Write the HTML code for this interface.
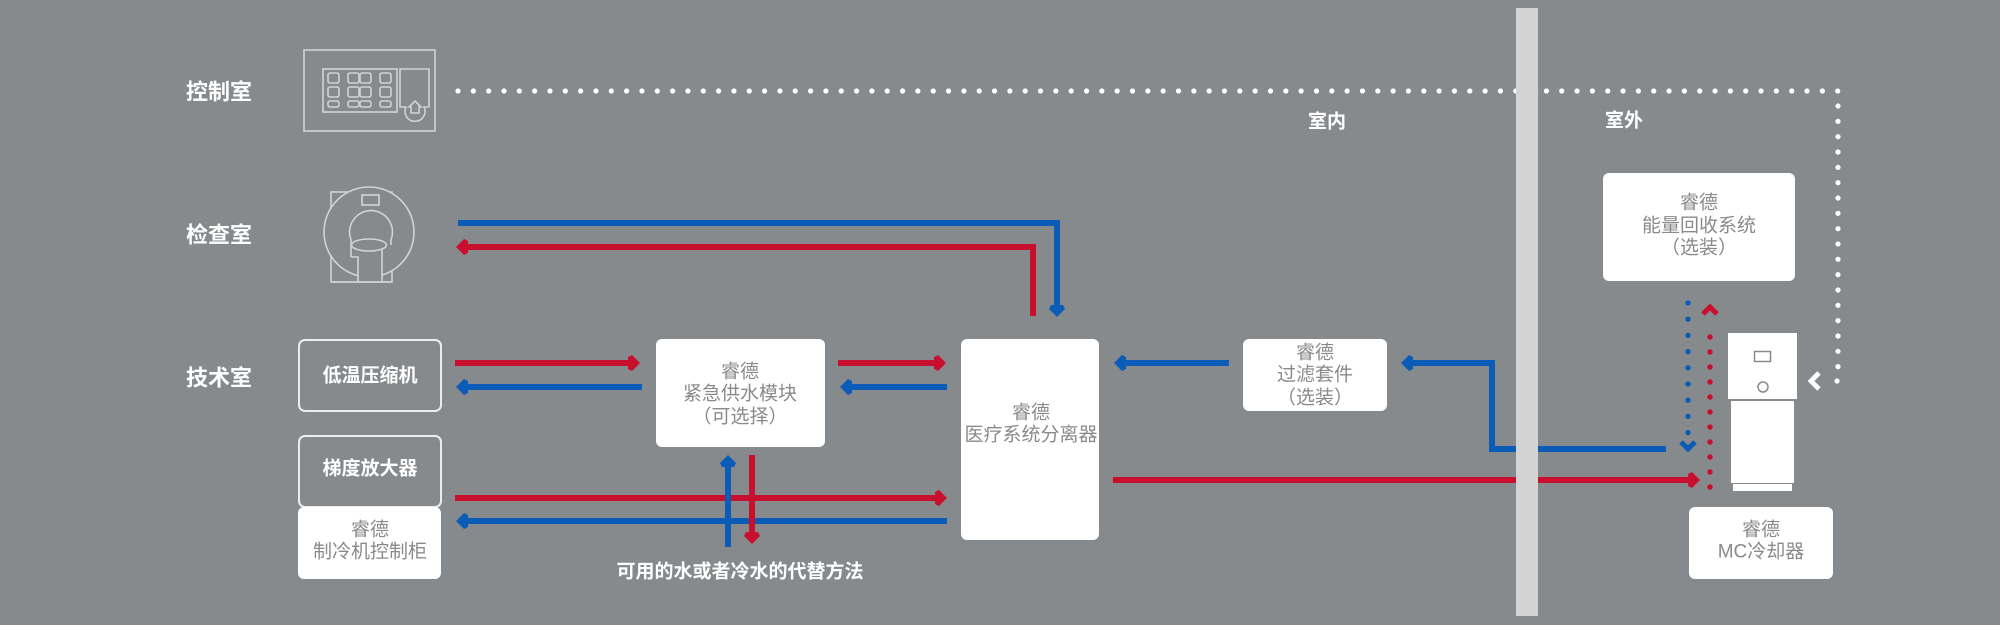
<!DOCTYPE html>
<html>
<head>
<meta charset="utf-8">
<style>
  html,body{margin:0;padding:0;background:#878a8d;}
  svg{display:block;}
  text{font-family:"Liberation Sans","Noto Sans CJK SC",sans-serif;}
  .room{fill:#ffffff;font-size:22px;font-weight:bold;}
  .lbl{fill:#ffffff;font-size:19px;font-weight:bold;}
  .bt{fill:#8a8a8a;font-size:19px;}
</style>
</head>
<body>
<svg width="2000" height="625" viewBox="0 0 2000 625" xmlns="http://www.w3.org/2000/svg">
  <rect x="0" y="0" width="2000" height="625" fill="#878a8d"/>

  <!-- Room labels -->
  <text class="room" x="186" y="92" dominant-baseline="central">控制室</text>
  <text class="room" x="186" y="235" dominant-baseline="central">检查室</text>
  <text class="room" x="186" y="378" dominant-baseline="central">技术室</text>
  <text class="lbl" x="1327" y="122" text-anchor="middle" dominant-baseline="central">室内</text>
  <text class="lbl" x="1624" y="121" text-anchor="middle" dominant-baseline="central">室外</text>

  <!-- Control room icon -->
  <g fill="none" stroke="#d2d2d2" stroke-width="1.6">
    <rect x="304" y="50" width="131" height="81"/>
    <rect x="323" y="69" width="74" height="43"/>
    <g>
      <rect x="328" y="73" width="11" height="10" rx="2"/>
      <rect x="348" y="73" width="11" height="10" rx="2"/>
      <rect x="360" y="73" width="11" height="10" rx="2"/>
      <rect x="380" y="73" width="11" height="10" rx="2"/>
      <rect x="328" y="87" width="11" height="10" rx="2"/>
      <rect x="348" y="87" width="11" height="10" rx="2"/>
      <rect x="360" y="87" width="11" height="10" rx="2"/>
      <rect x="380" y="87" width="11" height="10" rx="2"/>
      <rect x="328" y="101" width="11" height="6" rx="2"/>
      <rect x="348" y="101" width="11" height="6" rx="2"/>
      <rect x="360" y="101" width="11" height="6" rx="2"/>
      <rect x="380" y="101" width="11" height="6" rx="2"/>
    </g>
    <path d="M400,107 V69 H429 V107 H424 A10,10 0 1 1 406,107 Z"/>
    <path d="M415,101 L421,107 L419,107 L419,113 L411,113 L411,107 L409,107 Z"/>
  </g>

  <!-- MRI icon -->
  <g fill="none" stroke="#d2d2d2" stroke-width="1.6">
    <rect x="331" y="192" width="61" height="90"/>
    <circle cx="369" cy="232" r="45" fill="#878a8d"/>
    <rect x="362" y="195" width="17" height="10"/>
    <path d="M351,257 V240 A21.5,21.5 0 1 1 391,240 V245" fill="#878a8d"/>
    <path d="M351,257 H358 V282 H382 V249" fill="#878a8d"/>
    <ellipse cx="369" cy="245" rx="17.5" ry="6" fill="#878a8d"/>
    <line x1="331" y1="282" x2="392" y2="282"/>
  </g>

  <!-- White dotted control line -->
  <path d="M458,91 H1838 V381 H1825" fill="none" stroke="#ffffff" stroke-width="5.2" stroke-linecap="round" stroke-dasharray="0 15.33"/>
  <polyline points="1819,373 1811,381 1819,389" fill="none" stroke="#ffffff" stroke-width="4.8"/>

  <!-- Blue/red dotted lines near chiller -->
  <path d="M1688,303 V434" fill="none" stroke="#0a5cb7" stroke-width="5.4" stroke-linecap="round" stroke-dasharray="0 16.2"/>
  <polyline points="1681,442 1688,449 1695,442" fill="none" stroke="#0a5cb7" stroke-width="5"/>
  <path d="M1710,487 V322" fill="none" stroke="#c8102e" stroke-width="5.4" stroke-linecap="round" stroke-dasharray="0 15"/>
  <polyline points="1703,314 1710,307 1717,314" fill="none" stroke="#c8102e" stroke-width="5"/>

  <!-- Pipes -->
  <g fill="none" stroke-width="6" stroke-linejoin="miter">
    <path d="M458,223 H1057 V309" stroke="#0a5cb7"/>
    <path d="M1033,316 V247 H464" stroke="#c8102e"/>
    <path d="M455,363 H632" stroke="#c8102e"/>
    <path d="M642,387 H464" stroke="#0a5cb7"/>
    <path d="M838,363 H938" stroke="#c8102e"/>
    <path d="M947,387 H848" stroke="#0a5cb7"/>
    <path d="M455,498 H939" stroke="#c8102e"/>
    <path d="M947,521 H464" stroke="#0a5cb7"/>
    <path d="M752,455 V536" stroke="#c8102e"/>
    <path d="M728,547 V463" stroke="#0a5cb7"/>
    <path d="M1229,363 H1122" stroke="#0a5cb7"/>
    <path d="M1666,449 H1492 V363 H1409" stroke="#0a5cb7"/>
    <path d="M1113,480 H1692" stroke="#c8102e"/>
  </g>

  <!-- Arrowheads -->
  <g>
    <polygon points="456,247 464,239 468,241 468,253 464,255" fill="#c8102e"/>
    <polygon points="456,387 464,379 468,381 468,393 464,395" fill="#0a5cb7"/>
    <polygon points="456,521 464,513 468,515 468,527 464,529" fill="#0a5cb7"/>
    <polygon points="840,387 848,379 852,381 852,393 848,395" fill="#0a5cb7"/>
    <polygon points="1114,363 1122,355 1126,357 1126,369 1122,371" fill="#0a5cb7"/>
    <polygon points="1401,363 1409,355 1413,357 1413,369 1409,371" fill="#0a5cb7"/>
    <polygon points="640,363 632,355 628,357 628,369 632,371" fill="#c8102e"/>
    <polygon points="946,363 938,355 934,357 934,369 938,371" fill="#c8102e"/>
    <polygon points="947,498 939,490 935,492 935,504 939,506" fill="#c8102e"/>
    <polygon points="1700,480 1692,472 1688,474 1688,486 1692,488" fill="#c8102e"/>
    <polygon points="1057,317 1049,309 1051,305 1063,305 1065,309" fill="#0a5cb7"/>
    <polygon points="752,544 744,536 746,532 758,532 760,536" fill="#c8102e"/>
    <polygon points="728,455 720,463 722,467 734,467 736,463" fill="#0a5cb7"/>
  </g>

  <!-- Wall -->
  <rect x="1516" y="8" width="22" height="608" fill="#d3d3d3"/>

  <!-- Outlined boxes -->
  <rect x="299" y="340" width="142" height="71" rx="6" fill="none" stroke="#ececec" stroke-width="2"/>
  <text class="lbl" x="370" y="376" text-anchor="middle" dominant-baseline="central">低温压缩机</text>
  <rect x="299" y="436" width="142" height="71" rx="6" fill="none" stroke="#ececec" stroke-width="2"/>
  <text class="lbl" x="370" y="469" text-anchor="middle" dominant-baseline="central">梯度放大器</text>

  <!-- White boxes -->
  <rect x="298" y="507" width="143" height="72" rx="6" fill="#ffffff"/>
  <text class="bt" x="370" y="530" text-anchor="middle" dominant-baseline="central">睿德</text>
  <text class="bt" x="370" y="552" text-anchor="middle" dominant-baseline="central">制冷机控制柜</text>

  <rect x="656" y="339" width="169" height="108" rx="6" fill="#ffffff"/>
  <text class="bt" x="740" y="372" text-anchor="middle" dominant-baseline="central">睿德</text>
  <text class="bt" x="740" y="394" text-anchor="middle" dominant-baseline="central">紧急供水模块</text>
  <text class="bt" x="740" y="417" text-anchor="middle" dominant-baseline="central">（可选择）</text>

  <rect x="961" y="339" width="138" height="201" rx="6" fill="#ffffff"/>
  <text class="bt" x="1031" y="413" text-anchor="middle" dominant-baseline="central">睿德</text>
  <text class="bt" x="1031" y="435" text-anchor="middle" dominant-baseline="central">医疗系统分离器</text>

  <rect x="1243" y="339" width="144" height="72" rx="6" fill="#ffffff"/>
  <text class="bt" x="1315" y="353" text-anchor="middle" dominant-baseline="central">睿德</text>
  <text class="bt" x="1315" y="375" text-anchor="middle" dominant-baseline="central">过滤套件</text>
  <text class="bt" x="1315" y="398" text-anchor="middle" dominant-baseline="central">（选装）</text>

  <rect x="1603" y="173" width="192" height="108" rx="6" fill="#ffffff"/>
  <text class="bt" x="1699" y="203" text-anchor="middle" dominant-baseline="central">睿德</text>
  <text class="bt" x="1699" y="226" text-anchor="middle" dominant-baseline="central">能量回收系统</text>
  <text class="bt" x="1699" y="248" text-anchor="middle" dominant-baseline="central">（选装）</text>

  <rect x="1689" y="507" width="144" height="72" rx="6" fill="#ffffff"/>
  <text class="bt" x="1761" y="530" text-anchor="middle" dominant-baseline="central">睿德</text>
  <text class="bt" x="1761" y="552" text-anchor="middle" dominant-baseline="central">MC冷却器</text>

  <!-- Chiller device -->
  <rect x="1728" y="333" width="69" height="66" fill="#ffffff"/>
  <rect x="1754.5" y="351.5" width="16" height="10" fill="none" stroke="#8a8a8a" stroke-width="1.5"/>
  <circle cx="1763" cy="387" r="5" fill="none" stroke="#8a8a8a" stroke-width="1.5"/>
  <rect x="1731" y="401" width="63" height="82" fill="#ffffff"/>
  <rect x="1733" y="484" width="59" height="7" fill="#ffffff"/>

  <!-- Bottom caption -->
  <text class="lbl" x="740" y="572" text-anchor="middle" dominant-baseline="central">可用的水或者冷水的代替方法</text>
</svg>
</body>
</html>
